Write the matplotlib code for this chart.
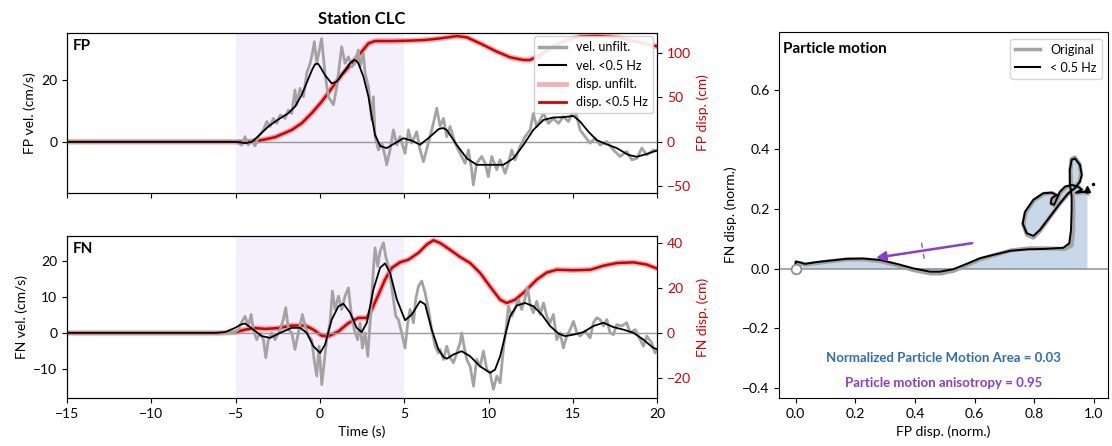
import matplotlib
matplotlib.use("Agg")
import matplotlib.pyplot as plt
from matplotlib.lines import Line2D

plt.rcParams['font.family'] = ['Lato', 'DejaVu Sans']
plt.rcParams['font.size'] = 10

# ---- FP component (time s, value) ----
fp_raw_t = [-15, -5.5, -5.2, -4.94, -4.64, -4.44, -4.25, -4.05, -3.85, -3.65, -3.35, -3.15, -2.96, -2.76,
            -2.56, -2.36, -2.07, -1.87, -1.67, -1.48, -1.38, -1.18, -0.98, -0.78, -0.58, -0.45, -0.33,
            -0.19, 0.1, 0.3, 0.5, 0.8, 1.0, 1.29, 1.49, 1.69, 1.89, 2.08, 2.28, 2.38, 2.58, 2.68, 2.88,
            3.07, 3.17, 3.27, 3.47, 3.67, 3.87, 3.96, 4.16, 4.36, 4.56, 4.75, 5.05, 5.25, 5.45, 5.74,
            5.94, 6.14, 6.43, 6.73, 6.93, 7.13, 7.33, 7.52, 7.72, 8.02, 8.31, 8.61, 8.81, 9.0, 9.1, 9.3,
            9.6, 9.8, 9.99, 10.19, 10.49, 10.69, 10.98, 11.18, 11.38, 11.58, 11.87, 12.17, 12.47, 12.66,
            12.86, 13.06, 13.26, 13.56, 13.85, 14.15, 14.44, 14.74, 15.04, 15.24, 15.43, 15.73, 16.03,
            16.32, 16.62, 17.02, 17.41, 17.81, 18.2, 18.5, 18.8, 19.09, 19.39, 19.78, 20.08]
fp_raw_v = [0, 0, 0.3, 0, -1, 1.7, -1, 0.6, -1.3, 1.7, 3.9, 6.6, 5, 7.6,
            6, 8.7, 7.6, 10.3, 9.2, 16.8, 11.9, 17.3, 14.6, 22.2, 25.4, 28.6, 32.4,
            25.4, 33.4, 22.2, 14.6, 12, 17.8, 30.8, 25.4, 27.5, 24.3, 25.4, 29.7, 24.3, 28.6, 22.2, 17.8,
            7.1, 14.6, 1.7, -2.6, -0.4, -4.7, -7.4, -2.6, 3.9, -1, 1.7, -3.7, 3.9, -0.4, 3.3,
            -2.6, -6.4, -0.4, 6, 10.9, 5, 7.6, 1.7, 5, -0.4, -3.7, -6.9, -2.6, -9, -13.9, -6.9,
            -4.7, -6.9, -11.2, -4.7, -9, -5.8, -10.1, -6.9, -2.6, -5.8, -1.5, 1.7, 3.9, 9.2,
            5, 7.1, 9.2, 6, 7.6, 6, 8.2, 6.6, 10.3, 8.2, 3.9, 1.7, -0.4,
            1.2, -1, 0.1, -2.6, -4.7, -3.1, -5.8, -5.3, -2, -4.2, -2.6, -3.1]

fp_filt_t = [-15, -6, -5, -4.4, -4.05, -3.65, -3.06, -2.46, -1.87, -1.48, -1.08, -0.68, -0.45, -0.29, -0.12,
             0.01, 0.3, 0.7, 1.0, 1.25, 1.49, 1.75, 1.99, 2.15, 2.28, 2.58, 2.88, 3.07, 3.27, 3.57, 3.96,
             4.46, 4.95, 5.45, 5.94, 6.43, 7.03, 7.3, 7.52, 8.12, 8.71, 9.3, 10.09, 10.88, 11.48, 12.07,
             12.66, 13.26, 13.85, 14.44, 15.04, 15.43, 15.93, 16.42, 17.02, 17.61, 18.3, 18.8, 19.39, 20.08]
fp_filt_v = [0, 0, 0, -0.4, 0, 1.9, 5.0, 7.3, 9.3, 11.4, 15.2, 20.5, 23.5, 25.1, 25.3,
             24.3, 21.6, 18.9, 19.5, 21.4, 23.2, 25.2, 26.4, 26.3, 25.4, 21.1, 14.6, 8.2, 2.3, -1.3, -2.0,
             -0.4, 1.2, 0.4, -0.9, 1.2, 4.1, 4.5, 3.9, -1.0, -5.3, -7.4, -7.4, -7.4, -5.3, -1.0,
             3.9, 7.1, 7.9, 8.0, 8.4, 6.6, 3.3, 0.6, -0.8, -2.0, -4.2, -4.8, -3.9, -2.6]

fp_disp_t = [-15, -4.5, -3.65, -2.66, -1.67, -1.08, -0.49, 0.11, 0.7, 1.29, 1.89, 2.48, 2.88, 3.27, 4.26,
             5.2, 6.24, 7.13, 8.12, 8.71, 9.5, 10.49, 11.28, 12.07, 12.47, 13.06, 13.85, 14.64, 15.43,
             16.42, 17.61, 18.8, 19.59, 20.08]
fp_disp_d = [0, 0, 1.1, 5.2, 13.4, 20.9, 32.2, 45.3, 60.3, 75.2, 88.4, 101.5, 110.8, 113.4, 113.4,
             113.8, 114.6, 116.4, 119, 117.6, 110.8, 101.5, 95.1, 92.1, 92.1, 97.7, 107.1, 114.6, 118.3,
             119.1, 117.6, 112.7, 109, 107.1]

# ---- FN component ----
fn_raw_t = [-15, -5.5, -5.03, -4.84, -4.64, -4.44, -4.25, -4.08, -3.95, -3.75, -3.55, -3.35, -3.21, -3.06,
            -2.86, -2.66, -2.36, -2.17, -2.03, -1.87, -1.67, -1.48, -1.28, -1.04, -0.88, -0.68, -0.49,
            -0.33, -0.19, -0.05, 0.11, 0.27, 0.4, 0.6, 0.74, 0.9, 1.1, 1.29, 1.49, 1.69, 1.85, 2.04, 2.24,
            2.38, 2.52, 2.68, 2.84, 3.03, 3.17, 3.27, 3.43, 3.57, 3.77, 3.9, 4.06, 4.22, 4.36, 4.5, 4.65,
            4.85, 5.05, 5.21, 5.35, 5.55, 5.68, 5.84, 6.04, 6.24, 6.44, 6.63, 6.83, 7.03, 7.13, 7.33,
            7.52, 7.72, 7.92, 8.12, 8.31, 8.41, 8.55, 8.71, 8.91, 9.11, 9.3, 9.5, 9.7, 9.9, 10.09, 10.29,
            10.49, 10.69, 10.88, 11.08, 11.18, 11.38, 11.58, 11.78, 11.97, 12.17, 12.31, 12.47, 12.66,
            12.86, 13.06, 13.26, 13.46, 13.65, 13.85, 14.05, 14.25, 14.44, 14.64, 14.84, 15.04, 15.24,
            15.43, 15.73, 16.03, 16.22, 16.42, 16.62, 16.82, 17.02, 17.21, 17.41, 17.61, 17.9, 18.2,
            18.4, 18.7, 19.0, 19.19, 19.39, 19.68, 19.88, 20.08]
fn_raw_v = [0, 0, 0.3, 0.9, 3, 4.6, 1.9, 5.1, 0.9, -1.9, 0, -1.9, -6.9, -1.9,
            0, -1.9, 0.9, 3.7, 7, 0.9, 0, -4.6, 0, 5.1, 1.9, -0.9, -1.9,
            -7.9, -12, -3.7, -14.4, -7.4, -1.9, 2.8, 11.6, 6.5, 10.2, 6.5, 10.2, 12.5, 5.6, 0.9, -1.9,
            2.8, -4.2, 0, -6.5, 6.5, 17.6, 23.6, 18.5, 22.7, 25, 21.3, 18.5, 13.9, 9.3, 4.6, 3.7,
            0, -4.2, 2.8, 6.5, 2.8, 9.3, 12.9, 14.4, 11.1, 6.5, 0.9, -3.7, -5.6, -4.6, -7.4,
            -3.7, -6.9, -8.3, -5.6, -2.8, 0, -3.7, -7.4, -9.3, -14.8, -7.4, -9.3, -5.1, -10.2, -11.1, -15.7,
            -12, -13.9, -4.6, 2.8, 7.4, 4.6, 6.9, 9.3, 6.5, 9.7, 12.5, 7.9, 5.6,
            8.8, 5.1, 8.3, 4.6, 2.8, 5.1, -1.9, 0, -4.2, -0.9, 0.9, 3.2, 0,
            -0.9, 0.5, -1.4, 2.8, 4.2, 3.7, 1.9, 3.7, 0, -0.5, 2.3, 1.9, 2.8,
            0, 0.9, -1.9, -3.7, -0.9, -2.8, -5.6, -4.2]

fn_filt_t = [-15, -6.2, -5.63, -5.03, -4.7, -4.44, -3.95, -3.45, -2.96, -2.36, -1.67, -1.18, -0.78, -0.39,
             0.01, 0.31, 0.7, 1.1, 1.39, 1.79, 2.18, 2.48, 2.78, 3.17, 3.57, 3.86, 4.16, 4.56, 5.05, 5.45,
             5.94, 6.24, 6.63, 7.03, 7.33, 7.52, 7.92, 8.41, 8.91, 9.5, 10.09, 10.39, 10.69, 10.98, 11.28,
             11.68, 12.17, 12.66, 13.16, 13.65, 14.15, 14.54, 15.04, 15.63, 16.22, 16.82, 17.41, 18.0,
             18.6, 19.19, 19.78, 20.18]
fn_filt_v = [0, 0, 0.2, 1.4, 2.3, 2.6, 0.9, -0.9, -1.4, 0, 1.4, 1.4, 0, -3.7,
             -5.6, -3.2, 3.7, 7.4, 8.1, 5.6, 1.4, 0.2, 2.8, 12, 18.1, 19.3, 16.7, 9.3, 3.5, 5.1,
             8.8, 7.9, 0.9, -4.6, -6.7, -7.2, -6.0, -5.1, -6.5, -9.3, -11.1, -10.2, -6.5, -0.9, 4.6,
             7.6, 8.3, 7.4, 5.1, 1.9, -0.2, -0.9, -0.5, 0.2, 1.9, 2.8, 1.6, 0.9,
             0, -1.9, -4.2, -4.8]

fn_disp_t = [-15, -6, -5.0, -4.44, -3.85, -3.25, -2.46, -1.67, -0.88, -0.39, 0.11, 0.5, 1.1, 1.69, 2.28,
             2.78, 3.07, 3.47, 3.86, 4.26, 4.75, 5.25, 5.84, 6.34, 6.73, 7.13, 7.72, 8.31, 8.91, 9.5,
             10.09, 10.69, 11.08, 11.58, 12.17, 12.86, 13.46, 14.05, 15.04, 16.03, 16.82, 17.61, 18.6,
             19.39, 20.08]
fn_disp_d = [0, 0, 0.3, 1.5, 2.2, 1.8, 2.2, 3.3, 3.3, 1.5, -1.2, -1.5, 0.7, 4.4, 6.7,
             6.7, 10.4, 17, 23.7, 28.9, 31.4, 32.6, 35.6, 39.3, 41.2, 40, 37, 33.8, 31.1, 26.7,
             20.7, 14.8, 13.3, 14.8, 18.5, 23.7, 26.9, 28.1, 27.9, 28.1, 29.9, 31.1, 31.4,
             30.4, 28.4]

# ---- particle motion (normalized FP vs FN displacement) ----
pm_x = [0, 0.000, 0.010, 0.031, 0.070, 0.115, 0.171, 0.227, 0.283, 0.339, 0.394, 0.450, 0.484, 0.528,
        0.573, 0.618, 0.67, 0.72, 0.78, 0.83, 0.897, 0.917, 0.923, 0.925, 0.925, 0.919, 0.919, 0.925,
        0.936, 0.953, 0.959, 0.953, 0.936, 0.914, 0.886, 0.853, 0.819, 0.797, 0.774, 0.761, 0.769,
        0.797, 0.830, 0.858, 0.875, 0.858, 0.855, 0.866, 0.886, 0.903, 0.925, 0.947, 0.959, 0.940,
        0.970, 0.978]
pm_y = [0, 0.024, 0.022, 0.016, 0.022, 0.027, 0.033, 0.034, 0.029, 0.016, 0.001, -0.010, -0.010, -0.002,
        0.016, 0.035, 0.048, 0.060, 0.065, 0.066, 0.070, 0.085, 0.130, 0.197, 0.242, 0.287, 0.331, 0.365,
        0.370, 0.348, 0.314, 0.292, 0.270, 0.253, 0.219, 0.175, 0.130, 0.110, 0.119, 0.152, 0.191,
        0.231, 0.253, 0.255, 0.247, 0.236, 0.219, 0.214, 0.258, 0.275, 0.281, 0.275, 0.265, 0.255,
        0.258, 0.255]
pm_orig_x = [0, 0.002, 0.012, 0.033, 0.072, 0.117, 0.173, 0.229, 0.285, 0.341, 0.396, 0.452, 0.486, 0.530,
             0.575, 0.620, 0.672, 0.722, 0.782, 0.832, 0.902, 0.925, 0.930, 0.931, 0.930, 0.923, 0.921,
             0.925, 0.936, 0.952, 0.957, 0.951, 0.934, 0.912, 0.884, 0.851, 0.818, 0.797, 0.776, 0.763,
             0.771, 0.799, 0.832, 0.860, 0.876, 0.860, 0.857, 0.868, 0.888, 0.905, 0.927, 0.949, 0.960,
             0.942, 0.971, 0.979]
pm_orig_y = [0, 0.020, 0.019, 0.014, 0.019, 0.025, 0.031, 0.031, 0.025, 0.011, -0.005, -0.016, -0.016,
             -0.007, 0.012, 0.032, 0.047, 0.061, 0.068, 0.068, 0.066, 0.078, 0.125, 0.192, 0.238, 0.285,
             0.332, 0.368, 0.373, 0.350, 0.315, 0.292, 0.268, 0.250, 0.216, 0.171, 0.126, 0.104, 0.113,
             0.148, 0.188, 0.229, 0.251, 0.253, 0.245, 0.234, 0.217, 0.212, 0.256, 0.273, 0.279, 0.273,
             0.263, 0.253, 0.256, 0.253]

arrow_start = (0.601, 0.087)
arrow_end = (0.260, 0.035)
perp_x = [0.422, 0.431]
perp_y = [0.087, 0.033]
npma = 0.03
anisotropy = 0.95

grey = '#a3a3a3'
red = '#d40000'
purple = '#8a3ccf'
blue = '#2e6db3'

fig = plt.figure(figsize=(11.12, 4.46), dpi=100)
ax1 = fig.add_axes([0.0603, 0.5673, 0.5306, 0.3594])
ax2 = fig.add_axes([0.0603, 0.1076, 0.5306, 0.3632])
ax3 = fig.add_axes([0.7008, 0.1076, 0.2956, 0.8200])

panels = [
    (ax1, 'FP', fp_raw_t, fp_raw_v, fp_filt_t, fp_filt_v, fp_disp_t, fp_disp_d, (-16.5, 35.3), (-57.6, 122.8)),
    (ax2, 'FN', fn_raw_t, fn_raw_v, fn_filt_t, fn_filt_v, fn_disp_t, fn_disp_d, (-18.1, 26.9), (-28.9, 43.1)),
]
for ax, comp, rt, rv, ft, fv, dt, dd, vlim, dlim in panels:
    ax.axvspan(-5, 5, color='mediumpurple', alpha=0.1, lw=0, zorder=0)
    ax.axhline(0, color='#999999', lw=1, zorder=1)
    twin = ax.twinx()
    twin.plot(dt, dd, color=red, lw=4, alpha=0.3, solid_capstyle='round')
    twin.plot(dt, dd, color=red, lw=1.8)
    twin.set_ylim(*dlim)
    twin.set_ylabel(comp + ' disp. (cm)', color=red)
    twin.tick_params(axis='y', labelcolor=red)
    ax.set_zorder(twin.get_zorder() + 1)
    ax.patch.set_visible(False)
    # background shading must stay behind the twin's lines
    ax.plot(rt, rv, color=grey, lw=2)
    ax.plot(ft, fv, color='black', lw=1.3)
    ax.set_xlim(-15, 20)
    ax.set_ylim(*vlim)
    ax.set_ylabel(comp + ' vel. (cm/s)')
    ax.text(0.01, 0.92, comp, transform=ax.transAxes, fontsize=11, fontweight='bold', va='center')

# move shading into twin axes so it sits under every line
for ax in (ax1, ax2):
    for p in list(ax.patches):
        p.remove()
fig.axes[3].axvspan(-5, 5, color='mediumpurple', alpha=0.1, lw=0, zorder=0)
fig.axes[4].axvspan(-5, 5, color='mediumpurple', alpha=0.1, lw=0, zorder=0)

ax1.set_xticks(range(-15, 21, 5))
ax1.set_xticklabels([])
ax2.set_xticks(range(-15, 21, 5))
ax2.set_xticklabels(['\u221215', '\u221210', '\u22125', '0', '5', '10', '15', '20'])
ax2.set_xlabel('Time (s)')
ax1.set_title('Station CLC', fontsize=12, fontweight='bold', pad=6)

handles = [Line2D([], [], color=grey, lw=2.5), Line2D([], [], color='black', lw=1.5),
           Line2D([], [], color=red, lw=3.5, alpha=0.3), Line2D([], [], color=red, lw=2)]
ax1.legend(handles, ['vel. unfilt.', 'vel. <0.5 Hz', 'disp. unfilt.', 'disp. <0.5 Hz'],
           loc='upper right', fontsize=9, framealpha=0.9, handlelength=2.2,
           borderaxespad=0.3)

# particle motion panel
ax3.axhline(0, color='#999999', lw=1.2, zorder=1)
ax3.fill(pm_x + [pm_x[-1], 0], pm_y + [0, 0], color='steelblue', alpha=0.3, lw=0, zorder=1)
ax3.plot(pm_orig_x, pm_orig_y, color=grey, lw=3, zorder=2)
ax3.plot(pm_x, pm_y, color='black', lw=1.4, zorder=3)
ax3.plot(pm_x[0], pm_y[0], 'o', ms=7, mfc='white', mec='#888888', mew=1.2, zorder=5)
ax3.plot(pm_x[-1], pm_y[-1] + 0.011, '^', ms=5, color='black', zorder=5)
ax3.plot(0.996, 0.283, '.', ms=3, color='black', zorder=5)
ax3.annotate('', xy=arrow_end, xytext=arrow_start,
             arrowprops=dict(arrowstyle='-|>', color=purple, lw=1.8, mutation_scale=14))
ax3.plot(perp_x, perp_y, color=purple, lw=0.9, ls=(0, (4, 2, 1, 2)))
ax3.set_xlim(-0.055, 1.047)
ax3.set_ylim(-0.434, 0.793)
ax3.set_xticks([0, 0.2, 0.4, 0.6, 0.8, 1.0])
ax3.set_yticks([-0.4, -0.2, 0, 0.2, 0.4, 0.6])
ax3.set_xlabel('FP disp. (norm.)')
ax3.set_ylabel('FN disp. (norm.)')
ax3.text(0.012, 0.954, 'Particle motion', transform=ax3.transAxes, fontsize=11,
         fontweight='bold', va='center')
ax3.text(0.5, 0.11, 'Normalized Particle Motion Area = %.2f' % npma, transform=ax3.transAxes,
         ha='center', va='center', color=blue, fontweight='bold', fontsize=9.5)
ax3.text(0.5, 0.041, 'Particle motion anisotropy = %.2f' % anisotropy, transform=ax3.transAxes,
         ha='center', va='center', color=purple, fontweight='bold', fontsize=9.5)
ax3.legend([Line2D([], [], color=grey, lw=2.5), Line2D([], [], color='black', lw=1.5)],
           ['Original', '< 0.5 Hz'], loc='upper right', fontsize=9, borderaxespad=0.5)

fig.savefig('out.png', dpi=100)
